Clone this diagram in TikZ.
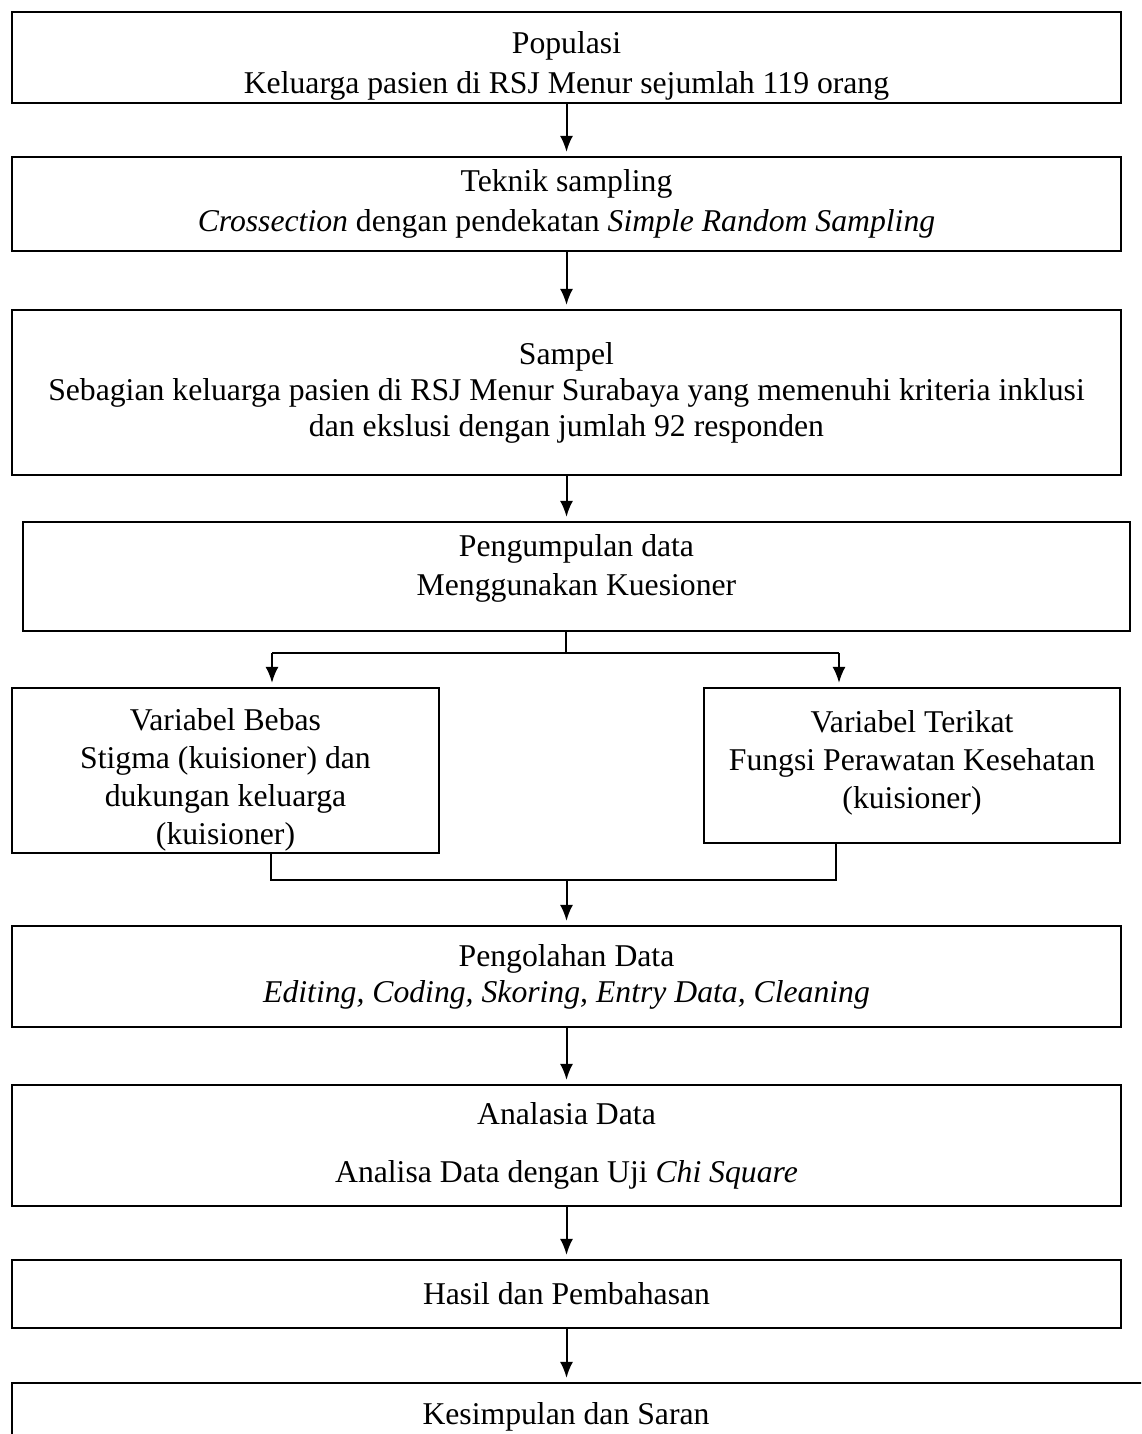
\documentclass[tikz,border=0pt]{standalone}
\usepackage{fontspec}
\setmainfont{Liberation Serif}
\usetikzlibrary{arrows.meta}
\begin{document}
\begin{tikzpicture}[x=0.5pt, y=-0.5pt, >={Latex[length=8pt,width=6.5pt]},
    box/.style={draw, line width=1.1pt, align=center, inner sep=0pt,
        font=\fontsize{15.85}{18}\selectfont},
    arr/.style={->, line width=1pt, shorten >=2pt},
    tee/.style={line width=0.6pt}]
    \useasboundingbox (0,0) rectangle (1141,1434);
    \clip (0,0) rectangle (1141,1434);
    % alur penelitian
    \node[box, minimum width=554.5pt, minimum height=45.5pt] (pop) at (566.5,57.5)
        {Populasi\\[2pt] Keluarga pasien di RSJ Menur sejumlah 119 orang\\[-23pt]};
    \node[box, minimum width=554.5pt, minimum height=47pt] (teknik) at (566.5,204)
        {Teknik sampling\\[2pt] \textit{Crossection} dengan pendekatan \textit{Simple Random Sampling}};
    \node[box, minimum width=554.5pt, minimum height=82.5pt] (sampel) at (566.5,392.5)
        {Sampel\\ Sebagian keluarga pasien di RSJ Menur Surabaya yang memenuhi kriteria inklusi\\ dan ekslusi dengan jumlah 92 responden};
    \node[box, minimum width=553.5pt, minimum height=54.5pt] (kumpul) at (576.5,576.5)
        {Pengumpulan data\\[1.5pt] Menggunakan Kuesioner\\[-6pt]};
    \node[box, minimum width=213.5pt, minimum height=82.5pt] (bebas) at (225.5,770.5)
        {Variabel Bebas\\[1pt] Stigma (kuisioner) dan\\[1pt] dukungan keluarga\\[1pt] (kuisioner)\\[-24pt]};
    \node[box, minimum width=208pt, minimum height=77.5pt] (terikat) at (912,765.5)
        {Variabel Terikat\\[1pt] Fungsi Perawatan Kesehatan\\[1pt] (kuisioner)\\[-12pt]};
    \node[box, minimum width=554.5pt, minimum height=50.5pt] (olah) at (566.5,976.5)
        {Pengolahan Data\\ \textit{Editing, Coding, Skoring, Entry Data, Cleaning}};
    \node[box, minimum width=554.5pt, minimum height=60.5pt] (analisa) at (566.5,1145.5)
        {Analasia Data\\[11pt] Analisa Data dengan Uji \textit{Chi Square}};
    \node[box, minimum width=554.5pt, minimum height=34pt] (hasil) at (566.5,1294)
        {Hasil dan Pembahasan};
    \node[box, minimum width=579pt, minimum height=34pt] (simpul) at (591,1417)
        {\hspace*{-25pt}Kesimpulan dan Saran};

    \coordinate (split) at (566,653);
    \coordinate (jL) at (272,653);
    \coordinate (jR) at (839,653);
    \coordinate (mL) at (271,880);
    \coordinate (mR) at (836,880);

    \draw[arr] (pop) -- (teknik);
    \draw[arr] (teknik) -- (sampel);
    \draw[arr] (sampel.south) -- (sampel.south |- kumpul.north);
    \draw[tee] (split |- kumpul.south) -- (split);
    \draw[tee] (jL) -- (jR);
    \draw[arr] (jL) -- (jL |- bebas.north);
    \draw[arr] (jR) -- (jR |- terikat.north);
    \draw[tee] (mL |- bebas.south) -- (mL) -- (mR) -- (mR |- terikat.south);
    \draw[arr] (olah.north |- mL) -- (olah.north);
    \draw[arr] (olah) -- (analisa);
    \draw[arr] (analisa) -- (hasil);
    \draw[arr] (hasil.south) -- (hasil.south |- simpul.north);
\end{tikzpicture}
\end{document}
